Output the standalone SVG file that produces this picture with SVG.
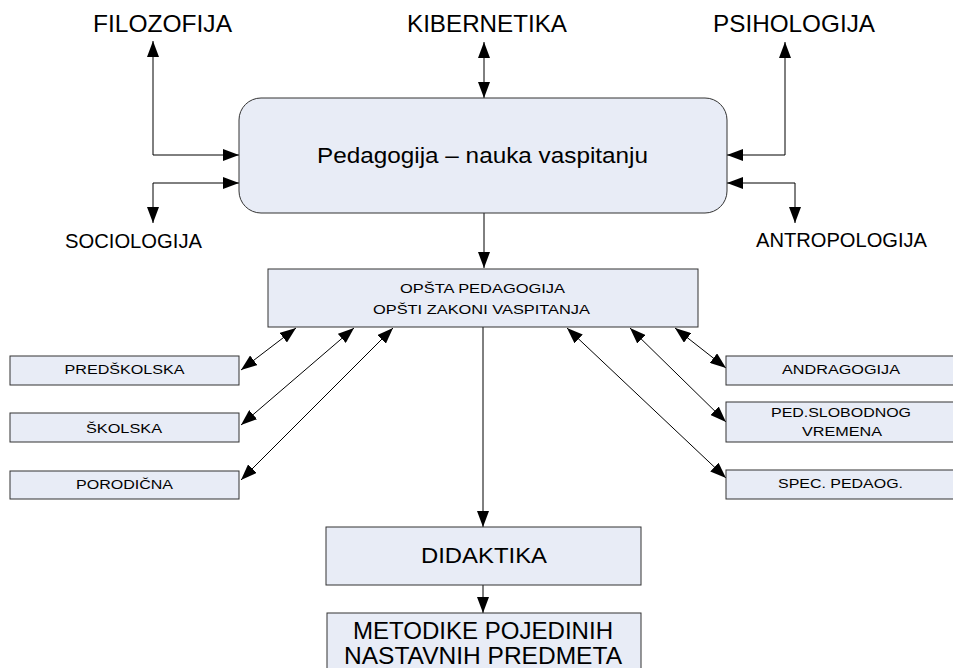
<svg xmlns="http://www.w3.org/2000/svg" width="953" height="668" viewBox="0 0 953 668">
<defs>
<marker id="ah" viewBox="0 0 16 12" refX="16" refY="6" markerWidth="16" markerHeight="12" markerUnits="userSpaceOnUse" orient="auto-start-reverse">
<path d="M0,0 L16,6 L0,12 z" fill="#000"/>
</marker>
<style>
.box{fill:#E8ECF6;stroke:#333;stroke-width:1}
.t{font-family:"Liberation Sans",Arial,sans-serif;fill:#000;text-anchor:middle}
.c{fill:none;stroke:#000;stroke-width:1}
.b{marker-start:url(#ah);marker-end:url(#ah)}
.e{marker-end:url(#ah)}
</style>
</defs>
<rect width="953" height="668" fill="#fff"/>
<g id="connectors">
<path class="c b" d="M153,41 V155 H239"/>
<path class="c b" d="M239,183 H153 V223"/>
<path class="c b" d="M484,42 V98"/>
<path class="c b" d="M785,42 V155 H727"/>
<path class="c b" d="M727,183 H795 V223"/>
<path class="c e" d="M484,213 V268"/>
<path class="c e" d="M483,327 V527"/>
<path class="c e" d="M483,585 V613"/>
<path class="c b" d="M241,370 L296,328"/>
<path class="c b" d="M241,425 L354,328"/>
<path class="c b" d="M241,480 L393,328"/>
<path class="c b" d="M675,328 L726,368"/>
<path class="c b" d="M630,328 L726,422"/>
<path class="c b" d="M567,328 L726,478"/>
</g>
<g id="filozofija"><text class="t" x="162.5" y="32" font-size="24" textLength="139" lengthAdjust="spacingAndGlyphs">FILOZOFIJA</text></g>
<g id="kibernetika"><text class="t" x="487" y="32" font-size="24" textLength="160" lengthAdjust="spacingAndGlyphs">KIBERNETIKA</text></g>
<g id="psihologija"><text class="t" x="794" y="32" font-size="24" textLength="162" lengthAdjust="spacingAndGlyphs">PSIHOLOGIJA</text></g>
<g id="sociologija"><text class="t" x="133.5" y="248" font-size="21" textLength="137" lengthAdjust="spacingAndGlyphs">SOCIOLOGIJA</text></g>
<g id="antropologija"><text class="t" x="841.5" y="247" font-size="21" textLength="171" lengthAdjust="spacingAndGlyphs">ANTROPOLOGIJA</text></g>
<g id="pedagogija">
<rect class="box" x="239" y="98" width="488" height="115" rx="22" ry="22"/>
<text class="t" x="482.5" y="163" font-size="22" textLength="331" lengthAdjust="spacingAndGlyphs">Pedagogija – nauka vaspitanju</text>
</g>
<g id="opsta">
<rect class="box" x="268" y="269" width="430" height="58"/>
<text class="t" x="482.5" y="293" font-size="13" textLength="165" lengthAdjust="spacingAndGlyphs">OPŠTA PEDAGOGIJA</text>
<text class="t" x="481.5" y="314" font-size="13" textLength="217" lengthAdjust="spacingAndGlyphs">OPŠTI ZAKONI VASPITANJA</text>
</g>
<g id="predskolska">
<rect class="box" x="10" y="356" width="229" height="29"/>
<text class="t" x="124.5" y="374" font-size="12" textLength="120" lengthAdjust="spacingAndGlyphs">PREDŠKOLSKA</text>
</g>
<g id="skolska">
<rect class="box" x="10" y="413" width="229" height="29"/>
<text class="t" x="124" y="433" font-size="12" textLength="76" lengthAdjust="spacingAndGlyphs">ŠKOLSKA</text>
</g>
<g id="porodicna">
<rect class="box" x="10" y="471" width="229" height="28"/>
<text class="t" x="124.5" y="489" font-size="12" textLength="97" lengthAdjust="spacingAndGlyphs">PORODIČNA</text>
</g>
<g id="andragogija">
<rect class="box" x="726" y="356" width="229" height="29"/>
<text class="t" x="841" y="374" font-size="12" textLength="118" lengthAdjust="spacingAndGlyphs">ANDRAGOGIJA</text>
</g>
<g id="slobodno">
<rect class="box" x="726" y="402" width="229" height="40"/>
<text class="t" x="841" y="417" font-size="12" textLength="140" lengthAdjust="spacingAndGlyphs">PED.SLOBODNOG</text>
<text class="t" x="842" y="436" font-size="12" textLength="80" lengthAdjust="spacingAndGlyphs">VREMENA</text>
</g>
<g id="spec">
<rect class="box" x="726" y="470" width="229" height="29"/>
<text class="t" x="840.5" y="488" font-size="12" textLength="125" lengthAdjust="spacingAndGlyphs">SPEC. PEDAOG.</text>
</g>
<g id="didaktika">
<rect class="box" x="326" y="527" width="315" height="58"/>
<text class="t" x="484" y="563" font-size="22" textLength="126" lengthAdjust="spacingAndGlyphs">DIDAKTIKA</text>
</g>
<g id="metodike">
<rect class="box" x="327" y="613" width="314" height="70"/>
<text class="t" x="483" y="639" font-size="24" textLength="260" lengthAdjust="spacingAndGlyphs">METODIKE POJEDINIH</text>
<text class="t" x="483" y="664" font-size="24" textLength="278" lengthAdjust="spacingAndGlyphs">NASTAVNIH PREDMETA</text>
</g>
</svg>
